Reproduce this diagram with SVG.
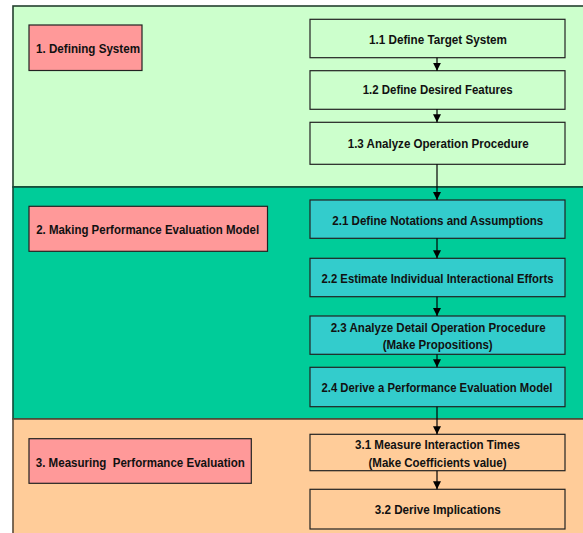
<svg xmlns="http://www.w3.org/2000/svg" width="583" height="533" viewBox="0 0 583 533">
  <style>
    .panel { stroke: #24402f; stroke-width: 1.6; }
    .p1 { fill: #ccffcc; }
    .p2 { fill: #00cc99; stroke: #0f4a36; }
    .p3 { fill: #ffcc99; stroke: #5a4a38; }
    .phase { fill: #ff9999; stroke: #222; stroke-width: 1.2; }
    .step { stroke: #222; stroke-width: 1.2; }
    .s1 { fill: #ccffcc; }
    .s2 { fill: #33cccc; }
    .s3 { fill: #ffcc99; }
    text { font-family: "Liberation Sans", Arial, sans-serif; font-weight: bold; font-size: 13.2px; fill: #111; text-anchor: middle; }
    .tight { font-size: 12.6px; }
    .conn { stroke: #000; stroke-width: 1.2; fill: none; marker-end: url(#arrow); }
  </style>
  <defs>
    <marker id="arrow" viewBox="0 0 8 10" refX="8" refY="5" markerWidth="8" markerHeight="10" markerUnits="userSpaceOnUse" orient="auto">
      <path d="M0,1 L8,5 L0,9 z" fill="#000"/>
    </marker>
  </defs>

  <rect x="0" y="0" width="583" height="533" fill="#ffffff"/>

  <!-- phase bands -->
  <g id="band-1"><rect class="panel p1" x="13" y="6" width="580" height="181"/></g>
  <g id="band-2"><rect class="panel p2" x="13" y="187" width="580" height="232"/></g>
  <g id="band-3"><rect class="panel p3" x="13" y="419" width="580" height="130"/></g>

  <!-- phase titles -->
  <g id="phase-1">
    <rect class="phase" x="29" y="25" width="113" height="45.5"/>
    <text x="88" y="52.7" textLength="104" lengthAdjust="spacingAndGlyphs">1. Defining System</text>
  </g>
  <g id="phase-2">
    <rect class="phase" x="29" y="206.3" width="238.5" height="45"/>
    <text x="147.7" y="234" textLength="223" lengthAdjust="spacingAndGlyphs">2. Making Performance Evaluation Model</text>
  </g>
  <g id="phase-3">
    <rect class="phase" x="29" y="438.7" width="222.3" height="44.6"/>
    <text x="140.3" y="466.7" textLength="209" lengthAdjust="spacingAndGlyphs" xml:space="preserve">3. Measuring  Performance Evaluation</text>
  </g>

  <!-- steps -->
  <g id="step-1-1">
    <rect class="step s1" x="310" y="19.3" width="255" height="38.4"/>
    <text x="438" y="43.7" textLength="138" lengthAdjust="spacingAndGlyphs">1.1 Define Target System</text>
  </g>
  <g id="step-1-2">
    <rect class="step s1" x="310" y="70.7" width="255" height="38.6"/>
    <text x="437.7" y="94.3" textLength="150" lengthAdjust="spacingAndGlyphs">1.2 Define Desired Features</text>
  </g>
  <g id="step-1-3">
    <rect class="step s1" x="310" y="122.3" width="255" height="42"/>
    <text x="438.2" y="148.3" textLength="181" lengthAdjust="spacingAndGlyphs">1.3 Analyze Operation Procedure</text>
  </g>
  <g id="step-2-1">
    <rect class="step s2" x="310" y="200" width="255" height="38.3"/>
    <text x="437.8" y="225" textLength="211" lengthAdjust="spacingAndGlyphs">2.1 Define Notations and Assumptions</text>
  </g>
  <g id="step-2-2">
    <rect class="step s2" x="310" y="258.3" width="255" height="38.4"/>
    <text class="tight" x="437.5" y="282.7" textLength="232" lengthAdjust="spacingAndGlyphs">2.2 Estimate Individual Interactional Efforts</text>
  </g>
  <g id="step-2-3">
    <rect class="step s2" x="310" y="316" width="255" height="38.3"/>
    <text x="438.2" y="331.7" textLength="215" lengthAdjust="spacingAndGlyphs">2.3 Analyze Detail Operation Procedure</text>
    <text x="437.7" y="349.3" textLength="110" lengthAdjust="spacingAndGlyphs">(Make Propositions)</text>
  </g>
  <g id="step-2-4">
    <rect class="step s2" x="310" y="367.3" width="255" height="39.4"/>
    <text class="tight" x="437" y="391.7" textLength="231" lengthAdjust="spacingAndGlyphs">2.4 Derive a Performance Evaluation Model</text>
  </g>
  <g id="step-3-1">
    <rect class="step s3" x="310" y="434.3" width="255" height="36.4"/>
    <text x="437.5" y="449.3" textLength="165" lengthAdjust="spacingAndGlyphs">3.1 Measure Interaction Times</text>
    <text x="437.5" y="466.7" textLength="138" lengthAdjust="spacingAndGlyphs">(Make Coefficients value)</text>
  </g>
  <g id="step-3-2">
    <rect class="step s3" x="310" y="489.3" width="255" height="39.7"/>
    <text x="437.8" y="514" textLength="126" lengthAdjust="spacingAndGlyphs">3.2 Derive Implications</text>
  </g>

  <!-- connectors -->
  <g id="connectors">
    <line class="conn" x1="437" y1="57.7" x2="437" y2="70.7"/>
    <line class="conn" x1="437" y1="109.3" x2="437" y2="122.3"/>
    <line class="conn" x1="437" y1="164.3" x2="437" y2="200"/>
    <line class="conn" x1="437" y1="238.3" x2="437" y2="258.3"/>
    <line class="conn" x1="437" y1="296.7" x2="437" y2="316"/>
    <line class="conn" x1="437" y1="354.3" x2="437" y2="367.3"/>
    <line class="conn" x1="437" y1="406.7" x2="437" y2="434.3"/>
    <line class="conn" x1="437" y1="470.7" x2="437" y2="489.3"/>
  </g>
</svg>
